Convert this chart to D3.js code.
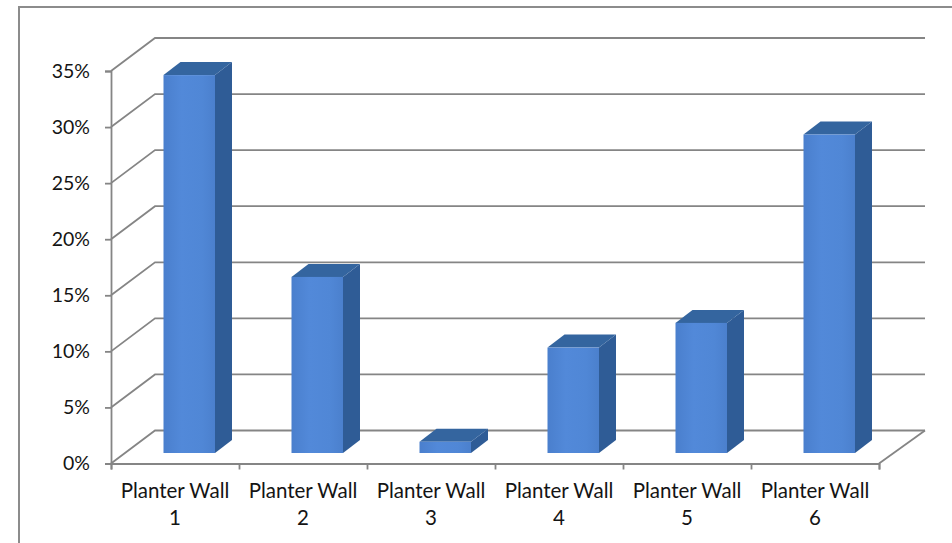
<!DOCTYPE html>
<html>
<head>
<meta charset="utf-8">
<script src="https://cdn.jsdelivr.net/npm/d3@7/dist/d3.min.js"></script>
<style>
  html, body { margin: 0; padding: 0; background: #fff; }
  svg { display: block; }
  text { font-family: Lato, "Open Sans", sans-serif; fill: #141414; }
</style>
</head>
<body>
<script>
const categories = ["Planter Wall 1", "Planter Wall 2", "Planter Wall 3", "Planter Wall 4", "Planter Wall 5", "Planter Wall 6"];
const shares = [33.7, 15.7, 1.0, 9.4, 11.6, 28.4];
const yTicks = [0, 5, 10, 15, 20, 25, 30, 35];

const width = 952, height = 543;
const plot = { left: 111, right: 879, top: 71, bottom: 463.5 };
const wall = { dx: 44, dy: -33, rightDx: 46 };   // shift from the front plane to the back wall
const bar = { inset: 52.5, width: 51.5, lift: 10.5, dx: 17, dy: -13 };
const gridColor = "#858585";

const svg = d3.select("body").append("svg").attr("width", width).attr("height", height);

const defs = svg.append("defs");
const face = defs.append("linearGradient").attr("id", "barFace");
[[0, "#4a7fcd"], [0.35, "#5289d9"], [0.75, "#5087d6"], [1, "#4b80cd"]].forEach(([o, c]) =>
  face.append("stop").attr("offset", o).attr("stop-color", c));

const x = d3.scaleBand().domain(categories).range([plot.left, plot.right]);
const xEdge = d3.scaleLinear().domain([0, categories.length]).range([plot.left, plot.right]);
const y = d3.scaleLinear().domain([0, 35]).range([plot.bottom, plot.top]);

// Outer frame: only the left and top edges fall inside the window
svg.append("path")
  .attr("d", `M19,${height} V7 H${width}`)
  .attr("fill", "none").attr("stroke", "#8c8c8c").attr("stroke-width", 2);

// Back wall gridlines and their returns to the value axis
const grid = svg.append("g").attr("fill", "none").attr("stroke", gridColor).attr("stroke-width", 1.8);
grid.selectAll("path").data(yTicks).join("path")
  .attr("d", d => `M${plot.left},${y(d)} l${wall.dx},${wall.dy} H${plot.right + wall.rightDx}`);
grid.append("path")
  .attr("d", `M${plot.right},${y(0)} l${wall.rightDx},${wall.dy}`);

// Value axis
const yAxis = d3.axisLeft(y).tickValues(yTicks).tickFormat(d => d + "%").tickSize(6).tickPadding(15);
const yG = svg.append("g").attr("transform", `translate(${plot.left},0)`).call(yAxis);
yG.selectAll("path, line").attr("stroke", gridColor).attr("stroke-width", 1.8);
yG.selectAll("text").attr("font-size", 19.5).attr("font-family", "Lato").attr("dy", "0.32em");

// Category axis: ticks on the slot boundaries, labels wrapped in two lines
const xAxis = d3.axisBottom(xEdge).ticks(categories.length).tickFormat("").tickSize(6);
const xG = svg.append("g").attr("transform", `translate(0,${plot.bottom})`).call(xAxis);
xG.selectAll("path, line").attr("stroke", gridColor).attr("stroke-width", 1.8);

const labels = svg.append("g").selectAll("text").data(categories).join("text")
  .attr("text-anchor", "middle").attr("font-size", 20.5);
labels.append("tspan")
  .attr("x", d => x(d) + x.bandwidth() / 2).attr("y", 498)
  .text(d => d.slice(0, d.lastIndexOf(" ")));
labels.append("tspan")
  .attr("x", d => x(d) + x.bandwidth() / 2).attr("y", 525)
  .text(d => d.slice(d.lastIndexOf(" ") + 1));

// Columns: side, top, then front face
const rows = categories.map((c, i) => ({ c, v: shares[i] }));
const cols = svg.append("g").selectAll("g").data(rows).join("g")
  .attr("transform", d => `translate(${x(d.c) + bar.inset},${-bar.lift})`);

cols.append("path").attr("fill", "#2f5c96")
  .attr("d", d => `M${bar.width},${y(d.v)} l${bar.dx},${bar.dy} V${y(0) + bar.dy} l${-bar.dx},${-bar.dy} Z`);
cols.append("path").attr("fill", "#34659f")
  .attr("d", d => `M0,${y(d.v)} l${bar.dx},${bar.dy} h${bar.width} l${-bar.dx},${-bar.dy} Z`);
cols.append("rect").attr("fill", "url(#barFace)")
  .attr("x", 0).attr("width", bar.width)
  .attr("y", d => y(d.v)).attr("height", d => y(0) - y(d.v));
</script>
</body>
</html>
